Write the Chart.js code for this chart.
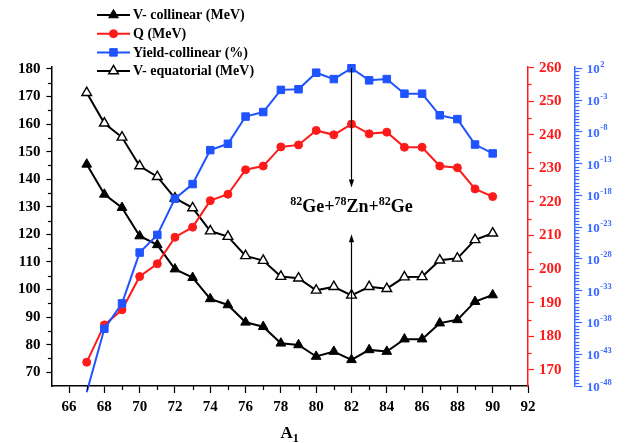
<!DOCTYPE html>
<html><head><meta charset="utf-8">
<script src="https://cdn.jsdelivr.net/npm/chart.js@4.4.1/dist/chart.umd.min.js"></script>
<style>html,body{margin:0;padding:0;background:#fff}#wrap{width:627px;height:443px}</style>
</head><body><div id="wrap"><canvas id="c" width="627" height="443"></canvas></div>
<script>
// ---------------- data ----------------
const A1 = [67,68,69,70,71,72,73,74,75,76,77,78,79,80,81,82,83,84,85,86,87,88,89,90];
const vCollinear = [145.4,134.5,129.7,119.4,116.2,107.4,104.3,96.6,94.4,88.1,86.5,80.5,79.9,75.7,77.5,74.5,78.1,77.5,82.0,82.0,87.8,89.0,95.6,98.0];
const qValue = [172.3,183.4,187.9,197.8,201.6,209.5,212.5,220.4,222.3,229.6,230.7,236.4,237.0,241.3,240.0,243.2,240.3,240.8,236.3,236.3,230.7,230.2,223.9,221.6];
const yieldCollinear = [1e-49,1e-39,1e-35,1e-27,6e-25,3e-19,6e-17,1.3e-11,1.3e-10,2.5e-6,1.3e-5,0.04,0.05,20,2,100,1.26,2,0.01,0.01,4e-6,1e-6,1e-10,4e-12];
const vEquatorial = [171.4,160.3,155.2,144.8,140.9,133.1,129.6,121.2,119.2,112.2,110.5,104.7,104.1,99.7,101.0,97.9,101.0,100.3,104.5,104.6,110.6,111.3,118.0,120.4];
const seriesLabels = ['V- collinear (MeV)','Q (MeV)','Yield-collinear (%)','V- equatorial (MeV)'];
const xTicks = [66,68,70,72,74,76,78,80,82,84,86,88,90,92];
const xMinorTicks = [67,69,71,73,75,77,79,81,83,85,87,89,91];
const leftTicks = [70,80,90,100,110,120,130,140,150,160,170,180];
const leftMinorTicks = [75,85,95,105,115,125,135,145,155,165,175];
const qTicks = [170,180,190,200,210,220,230,240,250,260];
const qMinorTicks = [175,185,195,205,215,225,235,245,255];
const yieldExponents = [2,-3,-8,-13,-18,-23,-28,-33,-38,-43,-48];
const xTitle = ['A','1'];
const reactionParts = [['82','Ge'],['+',''],['78','Zn'],['+',''],['82','Ge']];
const reactionA1 = 82;          // arrows point at this A1
const arrowTopTip = 137;        // left-axis units
const arrowBottomTip = 120;     // left-axis units
const reactionLabelY = 128.2;   // left-axis units

// ---------------- style ----------------
const SERIF = "'Liberation Serif','Times New Roman',serif";
const RED = '#ff1a1a';
const BLUE = '#1f53ff';
const BLUE_AX = '#3a69ff';

const pts = arr => A1.map((x,i)=>({x:x, y:arr[i]}));

const decor = {
  id:'decor',
  afterDraw(chart){
    const ctx = chart.ctx, ca = chart.chartArea;
    const sx = chart.scales.x, sy = chart.scales.y, sq = chart.scales.yQ, sl = chart.scales.yY;
    ctx.save();
    // minor ticks
    ctx.lineWidth = 1.2;
    ctx.strokeStyle = '#000';
    xMinorTicks.forEach(v=>{const p=Math.round(sx.getPixelForValue(v))+0.5; ctx.beginPath(); ctx.moveTo(p,ca.bottom); ctx.lineTo(p,ca.bottom+4); ctx.stroke();});
    leftMinorTicks.forEach(v=>{const p=Math.round(sy.getPixelForValue(v))+0.5; ctx.beginPath(); ctx.moveTo(ca.left,p); ctx.lineTo(ca.left-3.5,p); ctx.stroke();});
    ctx.strokeStyle = RED;
    qMinorTicks.forEach(v=>{const p=Math.round(sq.getPixelForValue(v))+0.5; ctx.beginPath(); ctx.moveTo(sq.left,p); ctx.lineTo(sq.left+3.5,p); ctx.stroke();});
    ctx.strokeStyle = BLUE_AX;
    for (let k=0;k<yieldExponents.length-1;k++){
      const e0 = yieldExponents[k];
      for (let j=1;j<10;j++){
        const e = e0 - j*0.5;
        const p = Math.round(sl.getPixelForValue(Math.pow(10,e)))+0.5;
        ctx.beginPath(); ctx.moveTo(sl.left,p); ctx.lineTo(sl.left+5,p); ctx.stroke();
      }
    }
    // blue log labels
    ctx.fillStyle = BLUE_AX;
    ctx.textBaseline = 'alphabetic'; ctx.textAlign = 'left';
    yieldExponents.forEach(e=>{
      const y = sl.getPixelForValue(Math.pow(10,e));
      const x0 = sl.left + 12.5;
      ctx.font = 'bold 13px ' + SERIF;
      ctx.fillText('10', x0, y+5);
      const w = ctx.measureText('10').width;
      ctx.font = 'bold 8.5px ' + SERIF;
      ctx.fillText(String(e), x0 + w + 0.5, y-1.5);
    });
    // arrows
    const idx = A1.indexOf(reactionA1);
    const ax = Math.round(sx.getPixelForValue(reactionA1))+0.5;
    const yTopStart = sl.getPixelForValue(yieldCollinear[idx]);
    const yTopTip = sy.getPixelForValue(arrowTopTip);
    const yBotStart = sy.getPixelForValue(vCollinear[idx]);
    const yBotTip = sy.getPixelForValue(arrowBottomTip);
    ctx.strokeStyle = '#000'; ctx.fillStyle = '#000'; ctx.lineWidth = 1.2;
    ctx.beginPath(); ctx.moveTo(ax,yTopStart); ctx.lineTo(ax,yTopTip-6); ctx.stroke();
    ctx.beginPath(); ctx.moveTo(ax,yTopTip); ctx.lineTo(ax-2.6,yTopTip-8); ctx.lineTo(ax+2.6,yTopTip-8); ctx.closePath(); ctx.fill();
    ctx.beginPath(); ctx.moveTo(ax,yBotStart); ctx.lineTo(ax,yBotTip+6); ctx.stroke();
    ctx.beginPath(); ctx.moveTo(ax,yBotTip); ctx.lineTo(ax-2.6,yBotTip+8); ctx.lineTo(ax+2.6,yBotTip+8); ctx.closePath(); ctx.fill();
    // reaction label
    const by = sy.getPixelForValue(reactionLabelY);
    const supF = 'bold 12px ' + SERIF, mainF = 'bold 18px ' + SERIF;
    let total = 0;
    reactionParts.forEach(([a,b])=>{
      if (b){ ctx.font = supF; total += ctx.measureText(a).width; ctx.font = mainF; total += ctx.measureText(b).width; }
      else { ctx.font = mainF; total += ctx.measureText(a).width; }
    });
    let cx = ax - total/2;
    reactionParts.forEach(([a,b])=>{
      if (b){ ctx.font = supF; ctx.fillText(a,cx,by-7); cx += ctx.measureText(a).width; ctx.font = mainF; ctx.fillText(b,cx,by); cx += ctx.measureText(b).width; }
      else { ctx.font = mainF; ctx.fillText(a,cx,by); cx += ctx.measureText(a).width; }
    });
    // x title
    ctx.font = 'bold 17px ' + SERIF;
    const wA = ctx.measureText(xTitle[0]).width;
    ctx.font = 'bold 12px ' + SERIF;
    const w1 = ctx.measureText(xTitle[1]).width;
    const tx = (ca.left+ca.right)/2 - (wA+w1)/2;
    ctx.font = 'bold 17px ' + SERIF; ctx.fillStyle = '#000';
    ctx.fillText(xTitle[0], tx, 438);
    ctx.font = 'bold 12px ' + SERIF;
    ctx.fillText(xTitle[1], tx+wA, 442);
    // legend
    const rows = [15,33.7,52.4,71];
    chart.data.datasets.forEach((ds,i)=>{
      const y = rows[i];
      ctx.strokeStyle = ds.borderColor; ctx.lineWidth = 2;
      ctx.beginPath(); ctx.moveTo(97,y); ctx.lineTo(130,y); ctx.stroke();
      drawMarker(ctx, ds.pointStyle, 113.5, y, ds.legendRadius, ds.pointBackgroundColor, ds.pointBorderColor, ds.pointBorderWidth);
      ctx.fillStyle = '#000'; ctx.font = 'bold 14px ' + SERIF; ctx.textBaseline='middle';
      ctx.fillText(ds.label, 133, y+0.5);
      ctx.textBaseline='alphabetic';
    });
    ctx.restore();
  }
};
function drawMarker(ctx, style, x, y, r, fill, stroke, bw){
  ctx.beginPath();
  if (style==='triangle'){
    ctx.moveTo(x, y-r); ctx.lineTo(x+r*0.866, y+r*0.5); ctx.lineTo(x-r*0.866, y+r*0.5); ctx.closePath();
  } else if (style==='circle'){
    ctx.arc(x,y,r,0,Math.PI*2);
  } else {
    const s = r*Math.SQRT1_2; ctx.rect(x-s,y-s,2*s,2*s);
  }
  ctx.fillStyle = fill; ctx.fill();
  ctx.lineWidth = bw; ctx.strokeStyle = stroke; ctx.stroke();
}

const tickFont = {family:SERIF, size:15, weight:'bold'};
const chart = new Chart(document.getElementById('c'), {
  type:'line',
  data:{datasets:[
    {label:seriesLabels[0], data:pts(vCollinear), yAxisID:'y', borderColor:'#000', backgroundColor:'#000',
     pointStyle:'triangle', pointRadius:5.6, legendRadius:5.6, pointBackgroundColor:'#000', pointBorderColor:'#000', pointBorderWidth:1, borderWidth:2, order:2, clip:false},
    {label:seriesLabels[1], data:pts(qValue), yAxisID:'yQ', borderColor:RED, backgroundColor:RED,
     pointStyle:'circle', pointRadius:4, legendRadius:4, pointBackgroundColor:RED, pointBorderColor:RED, pointBorderWidth:1, borderWidth:2, order:1, clip:false},
    {label:seriesLabels[2], data:pts(yieldCollinear), yAxisID:'yY', borderColor:BLUE, backgroundColor:BLUE,
     pointStyle:'rect', pointRadius:(c)=> (c.raw && c.raw.y < 1e-48 ? 0 : 5.3), legendRadius:5.3, pointBackgroundColor:BLUE, pointBorderColor:BLUE, pointBorderWidth:1, borderWidth:2, order:0, clip:false},
    {label:seriesLabels[3], data:pts(vEquatorial), yAxisID:'y', borderColor:'#000', backgroundColor:'#fff',
     pointStyle:'triangle', pointRadius:5.6, legendRadius:5.6, pointBackgroundColor:'#fff', pointBorderColor:'#000', pointBorderWidth:1.4, borderWidth:2, order:3, clip:false}
  ]},
  options:{
    responsive:false, animation:false, devicePixelRatio:1,
    layout:{padding:{top:67,left:0,right:0,bottom:0}},
    plugins:{legend:{display:false}, tooltip:{enabled:false}},
    elements:{line:{tension:0}},
    scales:{
      x:{type:'linear', position:'bottom', min:65, max:92,
        afterBuildTicks:s=>{s.ticks = xTicks.map(v=>({value:v}));},
        afterFit:s=>{s.height = 57;},
        ticks:{font:tickFont, color:'#000', padding:5, maxRotation:0, autoSkip:false},
        grid:{drawOnChartArea:false, tickLength:7, tickColor:'#000', tickWidth:1.2},
        border:{color:'#000', width:1.5}},
      y:{type:'linear', position:'left', min:65, max:180.7,
        afterBuildTicks:s=>{s.ticks = leftTicks.map(v=>({value:v}));},
        afterFit:s=>{s.width = 51.4;},
        ticks:{font:tickFont, color:'#000', padding:6, autoSkip:false},
        grid:{drawOnChartArea:false, tickLength:5, tickColor:'#000', tickWidth:1.2},
        border:{color:'#000', width:1.5}},
      yQ:{type:'linear', position:'right', min:165.2, max:260.2, weight:0,
        afterBuildTicks:s=>{s.ticks = qTicks.map(v=>({value:v}));},
        afterFit:s=>{s.width = 46.3;},
        ticks:{font:tickFont, color:RED, padding:5, autoSkip:false},
        grid:{drawOnChartArea:false, tickLength:6, tickColor:RED, tickWidth:1.2},
        border:{color:RED, width:1.5}},
      yY:{type:'logarithmic', position:'right', min:1e-48, max:158.5, weight:1,
        afterBuildTicks:s=>{s.ticks = yieldExponents.map(e=>({value:Math.pow(10,e)}));},
        afterFit:s=>{s.width = 52.7;},
        ticks:{callback:()=>'', autoSkip:false},
        grid:{drawOnChartArea:false, tickLength:8, tickColor:BLUE_AX, tickWidth:1.2},
        border:{color:BLUE_AX, width:1.5}}
    }
  },
  plugins:[decor]
});
</script></body></html>
